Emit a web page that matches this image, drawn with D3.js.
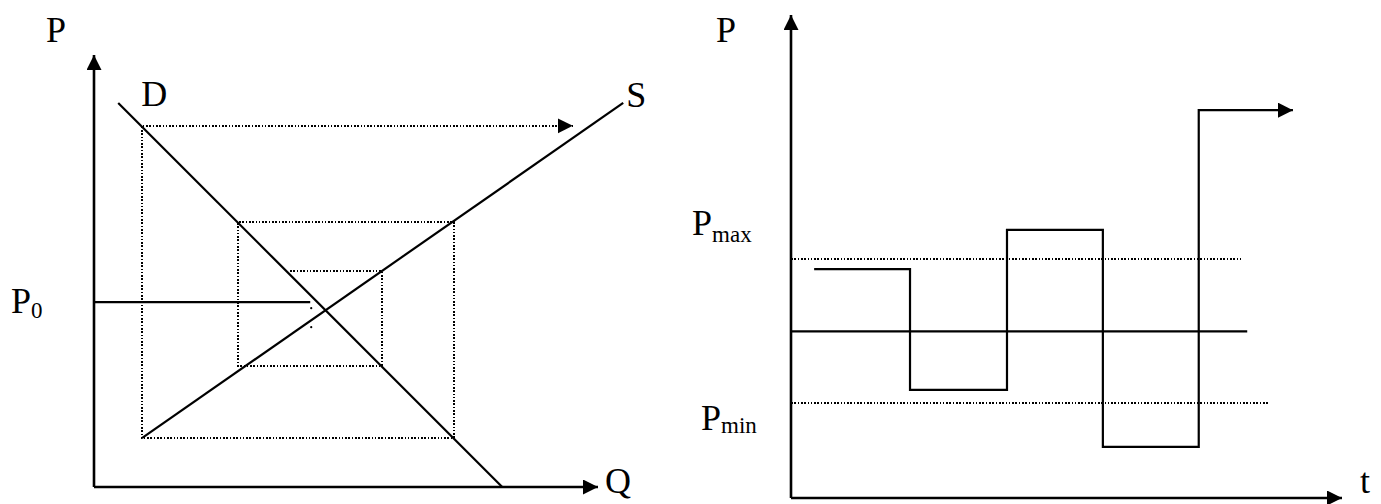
<!DOCTYPE html>
<html>
<head>
<meta charset="utf-8">
<script src="https://cdn.jsdelivr.net/npm/d3@7"></script>
<style>
  html, body { margin: 0; padding: 0; background: #fff; }
  text { font-family: "Liberation Serif", "Times New Roman", serif; fill: #000; }
</style>
</head>
<body>
<div id="chart"></div>
<script>
// left panel: cobweb (Q, P) in abstract units 0..10
const demandLine = [[0.48, 8.89], [8.1, 0]];
const supplyLine = [[0.95, 1.13], [10.5, 8.89]];
const p0Level = [[0, 4.28], [4.29, 4.28]];
const p0Dots = [[4.31, 4.14], [4.31, 3.7]];
// cobweb path, traced from the centre outwards, ends in the arrow
const cobweb = [
  [3.89, 5.0], [5.71, 5.0], [5.71, 2.8], [2.86, 2.8], [2.86, 6.13],
  [7.14, 6.13], [7.14, 1.13], [0.95, 1.13], [0.95, 8.36], [9.5, 8.36]
];

// right panel: price over time (t, P)
const pMax = 4.95;
const pMin = 1.97;
const pEq = 3.45;
const pMaxEnd = 8.2;
const pMinEnd = 8.69;
const pEqEnd = 8.28;
const priceSteps = [
  [0.42, 4.74], [2.16, 4.74], [2.16, 2.24], [3.92, 2.24], [3.92, 5.55],
  [5.66, 5.55], [5.66, 1.06], [7.4, 1.06], [7.4, 8.03], [9.11, 8.03]
];

const width = 1381, height = 504;

const svg = d3.select('#chart')
  .append('svg')
  .attr('width', width)
  .attr('height', height)
  .style('background-color', 'white');

svg.append('defs').append('marker')
  .attr('id', 'arrow')
  .attr('markerUnits', 'userSpaceOnUse')
  .attr('markerWidth', 16)
  .attr('markerHeight', 16)
  .attr('refX', 15)
  .attr('refY', 7.5)
  .attr('orient', 'auto')
  .append('path')
  .attr('d', 'M0,0 L15,7.5 L0,15 Z')
  .attr('fill', '#000');

// scales
const xL = d3.scaleLinear().domain([0, 10]).range([94, 598]);
const yL = d3.scaleLinear().domain([0, 10]).range([487, 55]);
const xR = d3.scaleLinear().domain([0, 10]).range([791, 1342]);
const yR = d3.scaleLinear().domain([0, 10]).range([498, 15]);

const lineL = d3.line().x(d => xL(d[0])).y(d => yL(d[1]));
const lineR = d3.line().x(d => xR(d[0])).y(d => yR(d[1]));

const solid = (g, d, gen, w) => g.append('path')
  .attr('d', gen(d))
  .attr('fill', 'none')
  .attr('stroke', '#000')
  .attr('stroke-width', w || 2.2);

const dotted = (g, d, gen) => g.append('path')
  .attr('d', gen(d))
  .attr('fill', 'none')
  .attr('stroke', '#000')
  .attr('stroke-width', 1.6)
  .attr('stroke-dasharray', '1.6,1.7')
  .attr('shape-rendering', 'crispEdges');

// ---- left panel
const left = svg.append('g');

solid(left, [[0, 0], [0, 10]], lineL, 2.6).attr('marker-end', 'url(#arrow)');
solid(left, [[0, 0], [10, 0]], lineL, 2.6).attr('marker-end', 'url(#arrow)');

solid(left, demandLine, lineL);
solid(left, supplyLine, lineL);
solid(left, p0Level, lineL);

dotted(left, cobweb, lineL).attr('marker-end', 'url(#arrow)');

left.selectAll('circle.dot')
  .data(p0Dots)
  .join('circle')
  .attr('class', 'dot')
  .attr('cx', d => xL(d[0]))
  .attr('cy', d => yL(d[1]))
  .attr('r', 1.1);

const big = '36px', small = '23px';

left.append('text').attr('x', xL(0) - 48).attr('y', yL(10) - 13)
  .style('font-size', big).text('P');
left.append('text').attr('x', xL(demandLine[0][0]) + 23).attr('y', yL(demandLine[0][1]) + 3)
  .style('font-size', big).text('D');
left.append('text').attr('x', xL(supplyLine[1][0]) + 3).attr('y', yL(supplyLine[1][1]) + 4)
  .style('font-size', big).text('S');
left.append('text').attr('x', xL(10) + 7).attr('y', yL(0) + 6)
  .style('font-size', big).text('Q');

const p0 = left.append('text').attr('x', 11).attr('y', yL(p0Level[0][1]) + 11)
  .style('font-size', big);
p0.append('tspan').text('P');
p0.append('tspan').attr('dy', 5).style('font-size', small).text('0');

// ---- right panel
const right = svg.append('g');

solid(right, [[0, 0], [0, 10]], lineR, 2.6).attr('marker-end', 'url(#arrow)');
solid(right, [[0, 0], [10, 0]], lineR, 2.6).attr('marker-end', 'url(#arrow)');

dotted(right, [[0, pMax], [pMaxEnd, pMax]], lineR);
dotted(right, [[0, pMin], [pMinEnd, pMin]], lineR);
solid(right, [[0, pEq], [pEqEnd, pEq]], lineR);

solid(right, priceSteps, lineR).attr('marker-end', 'url(#arrow)');

right.append('text').attr('x', xR(0) - 75).attr('y', yR(10) + 27)
  .style('font-size', big).text('P');
right.append('text').attr('x', xR(10) + 18).attr('y', yR(0) - 5)
  .style('font-size', big).text('t');

const pmx = right.append('text').attr('x', xR(0) - 99).attr('y', yR(pMax) - 24)
  .style('font-size', big);
pmx.append('tspan').text('P');
pmx.append('tspan').attr('dy', 7).style('font-size', small).text('max');

const pmn = right.append('text').attr('x', xR(0) - 90).attr('y', yR(pMin) + 27)
  .style('font-size', big);
pmn.append('tspan').text('P');
pmn.append('tspan').attr('dy', 3).style('font-size', small).text('min');
</script>
</body>
</html>
